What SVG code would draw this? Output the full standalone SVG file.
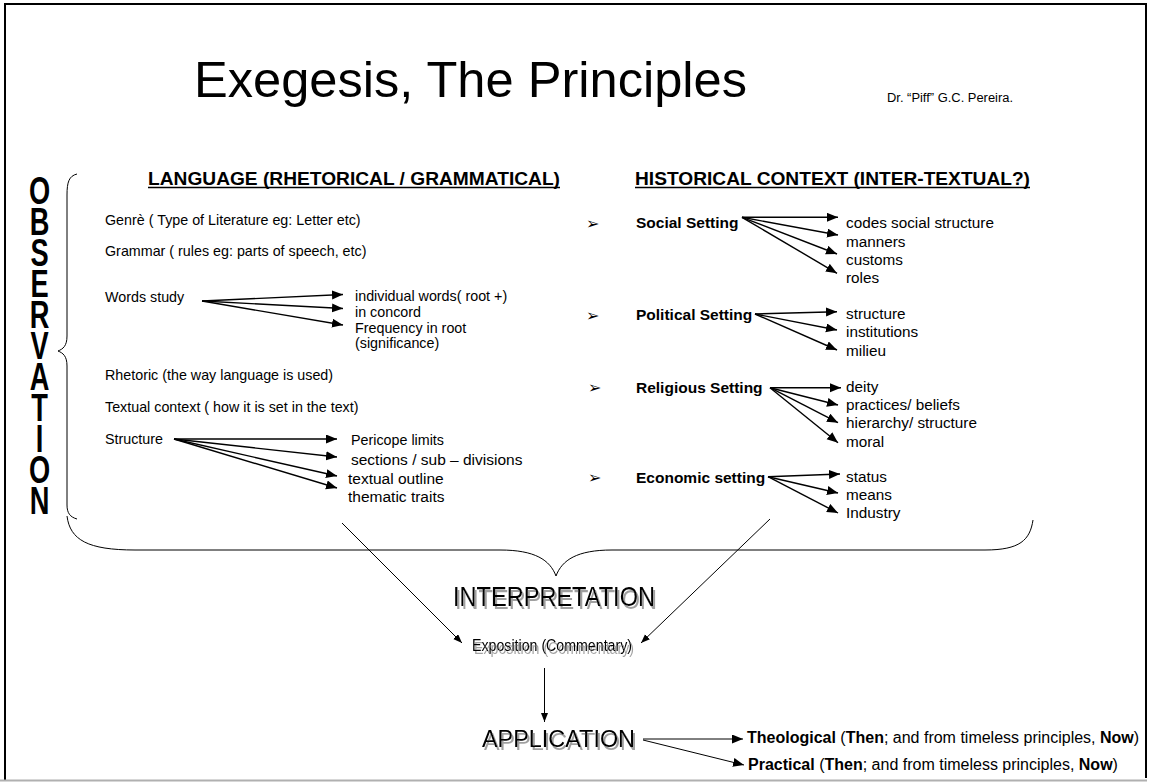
<svg xmlns="http://www.w3.org/2000/svg" width="1152" height="782" viewBox="0 0 1152 782">
<style>
text{font-family:"Liberation Sans",Arial,Helvetica,sans-serif;fill:#000}
.b{font-weight:bold}
.l14{font-size:14.3px}
.l15{font-size:15.5px}
.r15{font-size:15.3px}
.h{font-size:19px;font-weight:bold}
.bul{font-family:"DejaVu Sans",sans-serif;font-size:16px}
.obs{font-size:39.5px;font-weight:bold;writing-mode:vertical-rl;text-orientation:upright;letter-spacing:-13.2px}
.ln{stroke:#000;stroke-width:1.4;fill:none}
.thin{stroke:#000;stroke-width:1;fill:none}
.ul{stroke:#000;stroke-width:1.5}
.sh{filter:url(#sh)}
</style>
<defs>
<marker id="ah" markerUnits="userSpaceOnUse" markerWidth="12" markerHeight="10" refX="11" refY="4.5" orient="auto"><path d="M0,0 L11,4.5 L0,9 z" fill="#000"/></marker>
<marker id="as" markerUnits="userSpaceOnUse" markerWidth="10" markerHeight="8" refX="9" refY="3.5" orient="auto"><path d="M0,0 L9,3.5 L0,7 z" fill="#000"/></marker>
<filter id="sh" x="-10%" y="-30%" width="125%" height="170%"><feDropShadow dx="2" dy="3" stdDeviation="0.7" flood-color="#a0a0a0" flood-opacity="1"/></filter>
</defs>

<g id="frame">
<line x1="5" y1="4" x2="1146" y2="4" stroke="#000" stroke-width="2"/>
<line x1="5" y1="3" x2="5" y2="780" stroke="#000" stroke-width="2"/>
<line x1="1146" y1="3" x2="1146" y2="778" stroke="#000" stroke-width="2"/>
<line x1="0" y1="780.5" x2="1147" y2="780.5" stroke="#b0b0b0" stroke-width="2"/>
</g>

<g id="title">
<text x="194" y="97" font-size="50" textLength="553" lengthAdjust="spacingAndGlyphs">Exegesis, The Principles</text>
</g>
<g id="author">
<text x="887" y="102" font-size="12" textLength="126" lengthAdjust="spacingAndGlyphs">Dr. “Piff” G.C. Pereira.</text>
</g>

<g id="observation">
<g transform="translate(39.5,0) scale(0.69,1)">
<text class="obs" x="0" y="168" glyph-orientation-vertical="0">OBSERVATION</text>
</g>
<path class="thin" d="M77,174 C69,176 67,182 67,195 L67,336 C67,346 63,349 58,351 C63,353 67,356 67,366 L67,505 C67,513 70,517 77,519"/>
</g>

<g id="language">
<text class="h" x="148" y="185" textLength="412" lengthAdjust="spacingAndGlyphs">LANGUAGE (RHETORICAL / GRAMMATICAL)</text>
<line class="ul" x1="148" y1="187.6" x2="560" y2="187.6"/>
</g>
<g id="historical">
<text class="h" x="635" y="185" textLength="395" lengthAdjust="spacingAndGlyphs">HISTORICAL CONTEXT (INTER-TEXTUAL?)</text>
<line class="ul" x1="635" y1="187.6" x2="1030" y2="187.6"/>
</g>

<g id="genre"><text class="l14" x="105" y="225">Genrè ( Type of Literature eg: Letter etc)</text></g>
<g id="grammar"><text class="l14" x="105" y="256">Grammar ( rules eg: parts of speech, etc)</text></g>
<g id="words-study"><text class="l14" x="105" y="302">Words study</text></g>
<g id="words-items">
<text class="l14" x="355" y="301">individual words( root +)</text>
<text class="l14" x="355" y="317">in concord</text>
<text class="l14" x="355" y="333">Frequency in root</text>
<text class="l14" x="355" y="348">(significance)</text>
</g>
<g id="rhetoric"><text class="l14" x="105" y="380">Rhetoric (the way language is used)</text></g>
<g id="textual-context"><text class="l14" x="105" y="411.5">Textual context ( how it is set in the text)</text></g>
<g id="structure"><text class="l14" x="105" y="444">Structure</text></g>
<g id="structure-items">
<text class="l14" x="351" y="445">Pericope limits</text>
<text class="l15" x="351" y="465">sections / sub – divisions</text>
<text class="l15" x="348" y="483.5">textual outline</text>
<text class="l15" x="348" y="501.5">thematic traits</text>
</g>

<g id="social">
<text class="bul" x="586" y="229">➢</text>
<text class="l15 b" x="636" y="228.3">Social Setting</text>
</g>
<g id="social-items">
<text class="r15" x="846" y="228">codes social structure</text>
<text class="r15" x="846" y="246.5">manners</text>
<text class="r15" x="846" y="264.7">customs</text>
<text class="r15" x="846" y="283.3">roles</text>
</g>
<g id="political">
<text class="bul" x="586" y="321">➢</text>
<text class="l15 b" x="636" y="320">Political Setting</text>
</g>
<g id="political-items">
<text class="r15" x="846" y="319">structure</text>
<text class="r15" x="846" y="337">institutions</text>
<text class="r15" x="846" y="356">milieu</text>
</g>
<g id="religious">
<text class="bul" x="588" y="393">➢</text>
<text class="l15 b" x="636" y="392.7">Religious Setting</text>
</g>
<g id="religious-items">
<text class="r15" x="846" y="391.7">deity</text>
<text class="r15" x="846" y="409.5">practices/ beliefs</text>
<text class="r15" x="846" y="427.5">hierarchy/ structure</text>
<text class="r15" x="846" y="446.5">moral</text>
</g>
<g id="economic">
<text class="bul" x="588" y="483">➢</text>
<text class="l15 b" x="636" y="482.7">Economic setting</text>
</g>
<g id="economic-items">
<text class="r15" x="846" y="481.7">status</text>
<text class="r15" x="846" y="500">means</text>
<text class="r15" x="846" y="518.3">Industry</text>
</g>

<g id="observation-brace">
<path class="thin" d="M67,516 C70,540 88,550 135,550 L500,550 C535,550 550,560 556,576 C562,560 577,550 612,550 L985,550 C1020,550 1030,540 1033,520"/>
</g>

<g id="interpretation">
<text class="sh" x="453" y="606" font-size="28" textLength="202" lengthAdjust="spacingAndGlyphs">INTERPRETATION</text>
</g>
<g id="exposition">
<text class="sh" x="472" y="651" font-size="16" textLength="160" lengthAdjust="spacingAndGlyphs">Exposition (Commentary)</text>
</g>
<g id="application">
<text class="sh" x="482" y="747" font-size="23" textLength="153" lengthAdjust="spacingAndGlyphs">APPLICATION</text>
</g>
<g id="theological">
<text x="747" y="743" font-size="16"><tspan class="b">Theological</tspan> (<tspan class="b">Then</tspan>; and from timeless principles, <tspan class="b">Now</tspan>)</text>
</g>
<g id="practical">
<text x="748" y="769.5" font-size="16"><tspan class="b">Practical</tspan> (<tspan class="b">Then</tspan>; and from timeless principles, <tspan class="b">Now</tspan>)</text>
</g>

<g id="connectors">
<path class="ln" marker-end="url(#ah)" d="M202,301 L343,294.5"/>
<path class="ln" marker-end="url(#ah)" d="M202,301 L343,308.5"/>
<path class="ln" marker-end="url(#ah)" d="M202,301 L343,325"/>
<path class="ln" marker-end="url(#ah)" d="M174,439 L337,439"/>
<path class="ln" marker-end="url(#ah)" d="M174,439 L337,457"/>
<path class="ln" marker-end="url(#ah)" d="M174,439 L337,476"/>
<path class="ln" marker-end="url(#ah)" d="M174,439 L337,488"/>
<path class="ln" marker-end="url(#ah)" d="M742,217.3 L838,217.3"/>
<path class="ln" marker-end="url(#ah)" d="M742,217.3 L838,235"/>
<path class="ln" marker-end="url(#ah)" d="M742,217.3 L837,254"/>
<path class="ln" marker-end="url(#ah)" d="M742,217.3 L837,273.3"/>
<path class="ln" marker-end="url(#ah)" d="M755,314 L837,311.7"/>
<path class="ln" marker-end="url(#ah)" d="M755,314 L837,330"/>
<path class="ln" marker-end="url(#ah)" d="M755,314 L837,350"/>
<path class="ln" marker-end="url(#ah)" d="M770,387.7 L841,387.7"/>
<path class="ln" marker-end="url(#ah)" d="M770,387.7 L838,405"/>
<path class="ln" marker-end="url(#ah)" d="M770,387.7 L838,422.7"/>
<path class="ln" marker-end="url(#ah)" d="M770,387.7 L838,442.7"/>
<path class="ln" marker-end="url(#ah)" d="M768,476.7 L840,474"/>
<path class="ln" marker-end="url(#ah)" d="M768,476.7 L838,493"/>
<path class="ln" marker-end="url(#ah)" d="M768,476.7 L838,513"/>
<path class="thin" marker-end="url(#as)" d="M342,523 L462,643"/>
<path class="thin" marker-end="url(#as)" d="M770,519 L641,643"/>
<path class="thin" marker-end="url(#as)" d="M544.5,668 L544.5,722"/>
<path class="thin" marker-end="url(#ah)" d="M643,739 L743,739"/>
<path class="thin" marker-end="url(#ah)" d="M643,740 L744,765"/>
</g>
</svg>
